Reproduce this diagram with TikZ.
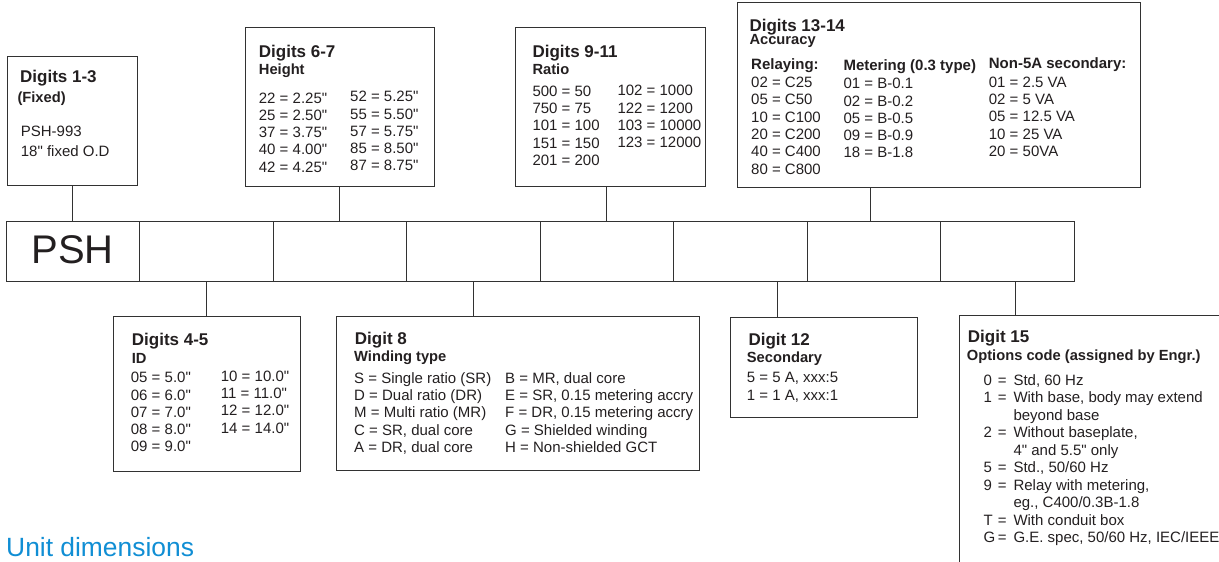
\documentclass[tikz,border=0pt]{standalone}
\usepackage{fontspec}
\setmainfont{Liberation Sans}[Ligatures=TeXOff]
\definecolor{linegray}{RGB}{50,50,50}
\definecolor{inkc}{RGB}{35,31,32}
\definecolor{unitblue}{RGB}{16,142,212}
\newcommand\tcol[1]{\begin{tabular}[t]{@{}l@{}}#1\end{tabular}}
\begin{document}
\begin{tikzpicture}[x=1pt,y=-1pt,
  box/.style={draw=linegray, line width=1.1pt, anchor=north west, inner sep=0pt},
  cell/.style={draw=linegray, line width=1pt, anchor=north west, inner sep=0pt, minimum width=133.5pt, minimum height=60pt},
  conn/.style={draw=linegray, line width=1pt},
  ttl/.style={anchor=base west, inner sep=0pt, text=inkc, font=\bfseries\fontsize{17}{20}\selectfont},
  sub/.style={anchor=base west, inner sep=0pt, text=inkc, font=\bfseries\fontsize{14.7}{17}\selectfont},
  hdr/.style={anchor=base west, inner sep=0pt, text=inkc, font=\bfseries\fontsize{15}{17.3}\selectfont},
  txt/.style={anchor=base west, inner sep=0pt, text=inkc, font=\fontsize{15}{17.3}\selectfont},
  txtg/.style={anchor=base west, inner sep=0pt, text=inkc, font=\fontsize{15}{17.5}\selectfont}
]
\useasboundingbox (0,0) rectangle (1219,562);
\clip (0,0) rectangle (1219,562);

% code row
\foreach \i in {1,...,8} {
  \node[cell] (c\i) at ({5.7+(\i-1)*133.5},221) {};
}
\node[anchor=base, inner sep=0pt, text=inkc, font=\fontsize{40}{40}\selectfont] (psh) at (72.7,263.3) {PSH};

% top boxes
\node[box, minimum width=130pt, minimum height=129pt] (A) at (7,56) {};
\node[box, minimum width=189.5pt, minimum height=159.6pt] (B) at (244.7,26.7) {};
\node[box, minimum width=189.7pt, minimum height=159.6pt] (C) at (515,26.7) {};
\node[box, minimum width=402.4pt, minimum height=184.4pt] (D) at (737.3,2.3) {};

% bottom boxes
\node[box, minimum width=186.7pt, minimum height=154.4pt] (E) at (113.3,316.3) {};
\node[box, minimum width=363pt, minimum height=154.6pt] (F) at (335.7,315.7) {};
\node[box, minimum width=187pt, minimum height=100.5pt] (G) at (729.7,316.5) {};
\node[box, minimum width=500pt, minimum height=400pt] (H) at (959,315) {};

% connectors
\draw[conn] (c1.north) -- (c1.north |- A.south);
\draw[conn] (c3.north) -- (c3.north |- B.south);
\draw[conn] (c5.north) -- (c5.north |- C.south);
\draw[conn] ([xshift=-3pt]c7.north) -- ([xshift=-3pt]c7.north |- D.south);
\draw[conn] (c2.south) -- (c2.south |- E.north);
\draw[conn] (c4.south) -- (c4.south |- F.north);
\draw[conn] ([xshift=-46pt]G.north) -- ([xshift=-46pt]G.north |- c6.south);
\draw[conn] ([xshift=56pt]H.north west) -- ([xshift=56pt]H.north west |- c8.south);

% Digits 1-3
\node[ttl] (a1) at (20,82) {Digits 1-3};
\node[sub] (a2) at (17.3,102.7) {(Fixed)};
\node[txt] (a3) at (20.7,136.3) {PSH-993};
\node[txt] (a4) at (20.7,156) {18" fixed O.D};

% Digits 6-7
\node[ttl] (b1) at (258.7,57.3) {Digits 6-7};
\node[sub] (b2) at (258.7,74) {Height};
\node[txt] (b3) at (258.7,103) {\tcol{22 = 2.25"\\25 = 2.50"\\37 = 3.75"\\40 = 4.00"\\42 = 4.25"}};
\node[txt] (b4) at (350,101.7) {\tcol{52 = 5.25"\\55 = 5.50"\\57 = 5.75"\\85 = 8.50"\\87 = 8.75"}};

% Digits 9-11
\node[ttl] (k1) at (532.3,57.3) {Digits 9-11};
\node[sub] (k2) at (532.3,74) {Ratio};
\node[txt] (k3) at (532.3,96.3) {\tcol{500 = 50\\750 = 75\\101 = 100\\151 = 150\\201 = 200}};
\node[txt] (k4) at (617.3,95.7) {\tcol{102 = 1000\\122 = 1200\\103 = 10000\\123 = 12000}};

% Digits 13-14
\node[ttl] (d1) at (749.3,31) {Digits 13-14};
\node[sub] (d2) at (749.3,45) {Accuracy};
\node[hdr] (d3) at (751,69) {Relaying:};
\node[hdr] (d4) at (843.3,70) {Metering (0.3 type)};
\node[hdr] (d5) at (988.7,68.7) {Non-5A secondary:};
\node[txt] (d6) at (751,87.7) {\tcol{02 = C25\\05 = C50\\10 = C100\\20 = C200\\40 = C400\\80 = C800}};
\node[txt] (d7) at (843.3,88.7) {\tcol{01 = B-0.1\\02 = B-0.2\\05 = B-0.5\\09 = B-0.9\\18 = B-1.8}};
\node[txt] (d8) at (988.7,87.3) {\tcol{01 = 2.5 VA\\02 = 5 VA\\05 = 12.5 VA\\10 = 25 VA\\20 = 50VA}};

% Digits 4-5
\node[ttl] (e1) at (131.7,345.3) {Digits 4-5};
\node[sub] (e2) at (131.7,363.3) {ID};
\node[txt] (e3) at (130.7,382.7) {\tcol{05 = 5.0"\\06 = 6.0"\\07 = 7.0"\\08 = 8.0"\\09 = 9.0"}};
\node[txt] (e4) at (220.7,381.3) {\tcol{10 = 10.0"\\11 = 11.0"\\12 = 12.0"\\14 = 14.0"}};

% Digit 8
\node[ttl] (f1) at (354.7,344.7) {Digit 8};
\node[sub] (f2) at (354,361.3) {Winding type};
\node[txt] (f3) at (354,383.3) {\tcol{S = Single ratio (SR)\\D = Dual ratio (DR)\\M = Multi ratio (MR)\\C = SR, dual core\\A = DR, dual core}};
\node[txt] (f4) at (505,383.3) {\tcol{B = MR, dual core\\E = SR, 0.15 metering accry\\F = DR, 0.15 metering accry\\G = Shielded winding\\H = Non-shielded GCT}};

% Digit 12
\node[ttl] (g1) at (748.3,345) {Digit 12};
\node[sub] (g2) at (746.7,362.7) {Secondary};
\node[txt] (g3) at (746.7,382.7) {\tcol{5 = 5 A, xxx:5\\1 = 1 A, xxx:1}};

% Digit 15
\node[ttl] (h1) at (967.7,342.3) {Digit 15};
\node[sub] (h2) at (966.7,360) {Options code (assigned by Engr.)};
\node[txtg] (h3) at (983.3,385) {\tcol{0\\1\\ \\2\\ \\5\\9\\ \\T\\G}};
\node[txtg] (h4) at (997.7,385) {\tcol{=\\=\\ \\=\\ \\=\\=\\ \\=\\=}};
\node[txtg] (h5) at (1013.3,385) {\tcol{Std, 60 Hz\\With base, body may extend\\beyond base\\Without baseplate,\\4" and 5.5" only\\Std., 50/60 Hz\\Relay with metering,\\eg., C400/0.3B-1.8\\With conduit box\\G.E. spec, 50/60 Hz, IEC/IEEE}};

% heading
\node[anchor=base west, inner sep=0pt, text=unitblue, font=\fontsize{26.4}{30}\selectfont] (unit) at (6,556.7) {Unit dimensions};
\end{tikzpicture}
\end{document}
